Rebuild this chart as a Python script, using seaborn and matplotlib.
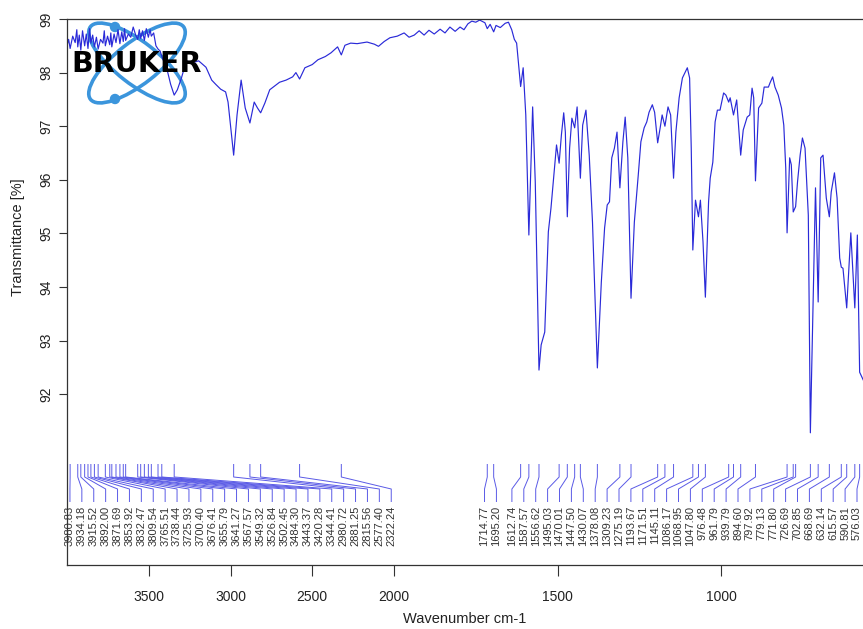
import numpy as np
import pandas as pd
import matplotlib
matplotlib.use("Agg")
import matplotlib.pyplot as plt
from matplotlib.patches import Ellipse, Circle
import seaborn as sns

# spectrum (wavenumber cm-1, transmittance %)
wavenumber = [
    4000, 3990, 3980.83, 3965, 3950, 3940, 3934.18, 3925, 3915.52, 3905, 3892.00, 3882,
    3871.69, 3862, 3853.92, 3843, 3832.47, 3820, 3809.54, 3795, 3780, 3772, 3765.51, 3752,
    3738.44, 3732, 3725.93, 3712, 3700.40, 3688, 3676.41, 3665, 3655.79, 3648, 3641.27, 3625,
    3610, 3595, 3580, 3567.57, 3558, 3549.32, 3538, 3526.84, 3515, 3502.45, 3492, 3484.30,
    3470, 3456, 3443.37, 3430, 3420.28, 3390, 3366, 3344.41, 3325, 3300, 3270, 3235, 3195,
    3150, 3115, 3090, 3060, 3030, 3015, 2980.72, 2960, 2935, 2910, 2881.25, 2855, 2835,
    2815.56, 2790, 2760, 2700, 2660, 2620, 2600, 2577.40, 2545, 2500, 2465, 2420, 2385,
    2345, 2322.24, 2300, 2265, 2225, 2165, 2120, 2095, 2060, 2025, 1990, 1969, 1954, 1938,
    1923, 1908, 1893, 1877, 1859, 1844, 1829, 1813, 1798, 1786, 1774, 1762, 1750, 1738,
    1722, 1714.77, 1706, 1695.20, 1688, 1675, 1660, 1650, 1640, 1632, 1625, 1612.74, 1605,
    1597, 1587.57, 1576, 1568, 1556.62, 1550, 1539, 1528, 1520, 1513, 1503, 1495.03, 1488,
    1481, 1476, 1470.01, 1463, 1456, 1447.50, 1440, 1430.07, 1423, 1413, 1403, 1393,
    1378.08, 1366, 1356, 1348, 1341, 1334, 1326, 1318, 1309.23, 1300, 1293, 1285, 1275.19,
    1265, 1253, 1245, 1235, 1227, 1220, 1210, 1203, 1193.67, 1186, 1180, 1171.51, 1162,
    1154, 1145.11, 1138, 1128, 1118, 1103, 1096, 1091, 1086.17, 1078, 1068.95, 1063, 1055,
    1047.80, 1038, 1033, 1025, 1018, 1011, 1003, 992, 985, 976.48, 972, 961.79, 952,
    939.79, 932, 920, 912, 905, 900, 894.60, 885, 875, 868, 855, 850, 842, 835, 825, 815,
    808, 802, 797.92, 790, 785, 779.13, 771.80, 766, 758, 751, 743, 733, 726.69, 711,
    702.85, 695, 688, 678, 668.69, 663, 653, 645, 637, 632.14, 627, 615.57, 603, 590.81,
    583, 576.03, 560,
]
transmittance = [
    98.50, 98.62, 98.45, 98.68, 98.56, 98.80, 98.48, 98.70, 98.42, 98.78, 98.50, 98.72,
    98.45, 98.82, 98.55, 98.70, 98.48, 98.66, 98.44, 98.62, 98.55, 98.78, 98.50, 98.68,
    98.52, 98.74, 98.48, 98.72, 98.56, 98.80, 98.54, 98.76, 98.58, 98.82, 98.60, 98.72,
    98.66, 98.85, 98.70, 98.62, 98.80, 98.64, 98.78, 98.60, 98.82, 98.66, 98.80, 98.68,
    98.74, 98.50, 98.44, 98.40, 98.30, 98.08, 97.78, 97.58, 97.68, 97.90, 98.22, 98.18, 98.22,
    98.10, 97.86, 97.78, 97.69, 97.64, 97.45, 96.46, 97.21, 97.86, 97.34, 97.06, 97.45, 97.34,
    97.25, 97.43, 97.68, 97.82, 97.86, 97.92, 98.00, 97.88, 98.09, 98.15, 98.24, 98.30, 98.37,
    98.48, 98.33, 98.51, 98.55, 98.54, 98.57, 98.53, 98.49, 98.58, 98.65, 98.68, 98.74, 98.66, 98.70,
    98.78, 98.70, 98.79, 98.72, 98.81, 98.74, 98.85, 98.77, 98.85, 98.80, 98.91, 98.96, 98.94, 98.98,
    98.93, 98.82, 98.90, 98.76, 98.88, 98.84, 98.92, 98.94, 98.80, 98.62, 98.55, 97.74, 98.09,
    97.21, 94.97, 97.36, 95.96, 92.45, 92.92, 93.16, 95.03, 95.47, 95.96, 96.65, 96.31, 96.84,
    97.25, 96.89, 95.31, 96.59, 97.15, 96.97, 97.36, 96.03, 97.02, 97.30, 96.46, 95.21,
    92.49, 94.09, 95.10, 95.53, 95.59, 96.41, 96.59, 96.89, 95.85, 96.71, 97.17, 96.41, 93.79,
    95.21, 96.09, 96.71, 96.97, 97.08, 97.26, 97.40, 97.26, 96.69, 96.97, 97.21, 97.00, 97.36,
    97.21, 96.03, 96.89, 97.53, 97.90, 98.09, 97.90, 96.59, 94.69, 95.62, 95.31, 95.62, 94.84,
    93.81, 95.59, 96.03, 96.33, 97.08, 97.30, 97.30, 97.62, 97.58, 97.45, 97.53, 97.21, 97.49,
    96.46, 96.93, 97.17, 97.21, 97.71, 97.53, 95.98, 97.34, 97.43, 97.73, 97.73, 97.81, 97.92, 97.73, 97.58, 97.34,
    97.02, 96.22, 95.01, 96.41, 96.28, 95.40, 95.50, 95.96, 96.46, 96.78, 96.59, 95.34, 91.28, 95.85,
    93.72, 96.41, 96.46, 95.66, 95.31, 95.77, 96.13, 95.66, 94.54, 94.37, 94.35, 93.61, 95.01, 93.61,
    94.97, 92.41, 92.20,
]

peak_wn = [
    3980.83, 3934.18, 3915.52, 3892.00, 3871.69, 3853.92, 3832.47, 3809.54, 3765.51,
    3738.44, 3725.93, 3700.40, 3676.41, 3655.79, 3641.27, 3567.57, 3549.32, 3526.84,
    3502.45, 3484.30, 3443.37, 3420.28, 3344.41, 2980.72, 2881.25, 2815.56, 2577.40,
    2322.24,
    1714.77, 1695.20, 1612.74, 1587.57, 1556.62, 1495.03, 1470.01, 1447.50, 1430.07,
    1378.08, 1309.23, 1275.19, 1193.67, 1171.51, 1145.11, 1086.17, 1068.95, 1047.80,
    976.48, 961.79, 939.79, 894.60, 797.92, 779.13, 771.80, 726.69, 702.85, 668.69,
    632.14, 615.57, 590.81, 576.03,
]

x_ticks = [3500, 3000, 2500, 2000, 1500, 1000]
y_ticks = [92, 93, 94, 95, 96, 97, 98, 99]


def to_u(wn):
    # OPUS style axis: above 2000 cm-1 the scale is squeezed by a factor 2
    wn = np.asarray(wn, dtype=float)
    return np.where(wn >= 2000, (4000 - wn) / 2.0, 1000 + (2000 - wn))


W, H = 863, 629
PX = 0.327  # pixels per axis unit
U_MAX = 2450
Y_TOP = 99.0
Y_BOT = 99.0 - 546 / 53.6

sns.set_style("ticks")
plt.rcParams["font.family"] = ["Liberation Sans", "DejaVu Sans"]

fig = plt.figure(figsize=(W / 100, H / 100), dpi=100)

# logo orbits behind the spectrum
lax = fig.add_axes([0, 0, 1, 1], zorder=0)
lax.set_xlim(0, W)
lax.set_ylim(H, 0)
lax.axis("off")
orbit = "#3b95dc"
for ang in (38, -38):
    lax.add_patch(Ellipse((137, 63), 118, 42, angle=ang, fill=False, ec=orbit, lw=2.6))
lax.add_patch(Circle((115, 27), 4.5, color=orbit))
lax.add_patch(Circle((115, 99), 4.5, color=orbit))

ax = fig.add_axes([67 / W, (H - 565) / H, U_MAX * PX / W, 546 / H], zorder=1)
ax.set_facecolor("none")

df = pd.DataFrame({"u": to_u(wavenumber), "T": transmittance})
sns.lineplot(data=df, x="u", y="T", sort=False, estimator=None,
             color="#2a2ad8", lw=0.85, ax=ax)

# peak labels: spread the labels so they do not overlap
pu = to_u(peak_wn)
gap = 11.9 / PX
lo, hi = 9.0, (857 - 67) / PX


def place(cl):
    c = (pu[cl[0]] + pu[cl[-1]]) / 2
    s = c - (len(cl) - 1) * gap / 2
    s = max(s, lo)
    s = min(s, hi - (len(cl) - 1) * gap)
    return [s + k * gap for k in range(len(cl))]


clusters = [[i] for i in range(len(pu))]
merged = True
while merged:
    merged = False
    for j in range(len(clusters) - 1):
        a, b = place(clusters[j]), place(clusters[j + 1])
        if a[-1] + gap > b[0]:
            clusters[j] = clusters[j] + clusters[j + 1]
            del clusters[j + 1]
            merged = True
            break

lab_u = []
for cl in clusters:
    lab_u += place(cl)

yl = [99 - (464 - 19) / 53.6, 99 - (477 - 19) / 53.6,
      99 - (489 - 19) / 53.6, 99 - (502 - 19) / 53.6]
y_txt = 99 - (506 - 19) / 53.6
for p, l, w in zip(pu, lab_u, peak_wn):
    ax.plot([p, p, l, l], yl, color="#5a5ae6", lw=0.7, solid_capstyle="butt")
    ax.text(l, y_txt, f"{w:.2f}", rotation=90, ha="center", va="top",
            fontsize=8, color="#333333")

ax.set_xlim(0, U_MAX)
ax.set_ylim(Y_BOT, Y_TOP)
ax.set_xticks(to_u(x_ticks))
ax.set_xticklabels([str(t) for t in x_ticks])
ax.set_yticks(y_ticks)
ax.set_yticklabels([str(t) for t in y_ticks], rotation=90, va="center")
ax.tick_params(axis="both", length=6, width=0.8, color="#333333",
               labelsize=10, labelcolor="#222222")
ax.tick_params(axis="x", length=8, pad=10)
for s in ax.spines.values():
    s.set_color("#333333")
    s.set_linewidth(0.9)

ax.set_xlabel("Wavenumber cm-1", fontsize=10.5, color="#222222")
ax.set_ylabel("Transmittance [%]", fontsize=10.5, color="#222222")
ax.yaxis.set_label_coords(-(67 - 25) / (U_MAX * PX), (565 - 237) / 546)
ax.xaxis.set_label_coords((465 - 67) / (U_MAX * PX), -(612 - 565) / 546)

fig.text(137 / W, 1 - 64 / H, "BRUKER", ha="center", va="center",
         fontsize=20.5, fontweight="heavy", family="DejaVu Sans",
         color="black", zorder=5)

fig.savefig("out.png", dpi=100)
